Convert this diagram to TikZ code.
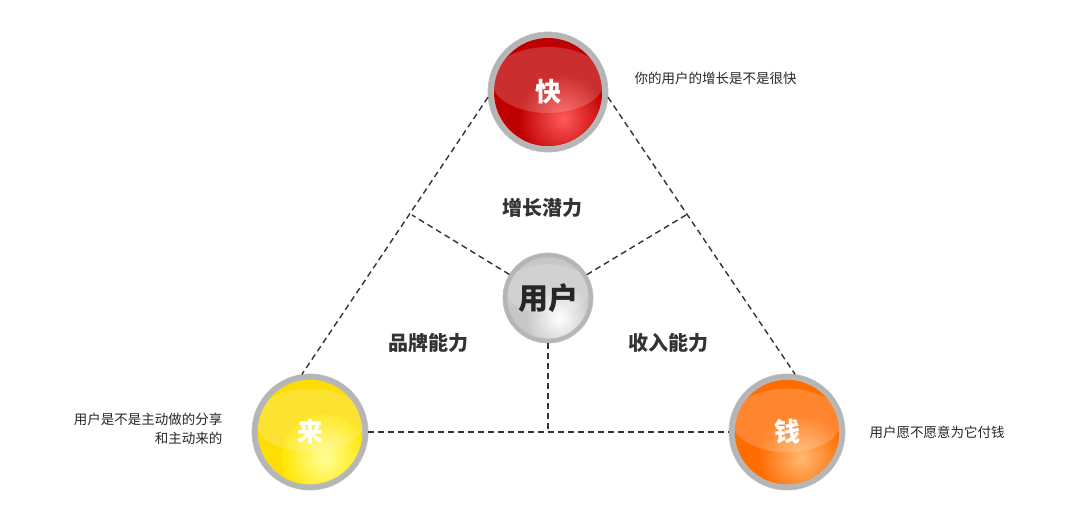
\documentclass[tikz,border=0pt]{standalone}
\usepackage{fontspec}
\setmainfont{Noto Sans CJK SC}
\usetikzlibrary{shadings}
\begin{document}
\begin{tikzpicture}[x=1pt,y=-1pt,
  dline/.style={draw=black!80,line width=1.4pt,dash pattern=on 6pt off 4pt},
  lbl/.style={font=\fontsize{20}{24}\selectfont\bfseries,text=black!80},
  note/.style={font=\fontsize{13.5}{19}\selectfont,text=black!85}]
\useasboundingbox (0,0) rectangle (1080,524);
\newcommand{\myball}[6]{% x,y,r,dark,light,name
  \shade[outer color=black!30,inner color=black!5] (#1,#2) circle (#3);
  \draw[black!25,line width=0.8pt] (#1,#2) circle (#3);
  \fill[#4] (#1,#2) circle (0.9*#3);
  \begin{scope}
    \clip (#1,#2) circle (0.9*#3);
    \shade[inner color=#5, outer color=#4] (#1+0.25*#3,#2+0.45*#3) circle (0.75*#3);
    \fill[white,opacity=0.18] (#1,#2-0.2*#3) ellipse (0.95*#3 and 0.55*#3);
  \end{scope}
  \node[circle,minimum size=2*#3,inner sep=0] (#6) at (#1,#2) {};
}
\myball{548}{92}{60}{red!75!black}{red!65!white}{kuai}
\myball{310}{432}{58}{yellow!80!orange}{yellow!40!white}{lai}
\myball{787}{432}{58}{orange!85!red}{orange!55!white}{qian}
\myball{548}{298}{45}{black!22}{white}{yh}
\node[font=\fontsize{26}{30}\selectfont\bfseries,text=white] at (kuai) {快};
\node[font=\fontsize{26}{30}\selectfont\bfseries,text=white] at (lai) {来};
\node[font=\fontsize{26}{30}\selectfont\bfseries,text=white] at (qian) {钱};
\node[font=\fontsize{30}{34}\selectfont\bfseries,text=black!85] at (yh) {用户};
\coordinate (eL) at (412,215);
\coordinate (eR) at (686,215);
\coordinate (eB) at (548,432);
\draw[dline] (kuai.185) -- (lai.98);
\draw[dline] (kuai.-5) -- (qian.82);
\draw[dline] (lai) -- (qian);
\draw[dline] (yh) -- (eL);
\draw[dline] (yh) -- (eR);
\draw[dline] (yh) -- (eB);
\node[lbl] (l1) at (542,208) {增长潜力};
\node[lbl] (l2) at (428,343) {品牌能力};
\node[lbl] (l3) at (668,343) {收入能力};
\node[note,anchor=west] (n1) at (631,78) {你的用户的增长是不是很快};
\node[note,anchor=west] (n2) at (866,432) {用户愿不愿意为它付钱};
\node[note,anchor=east,align=right] (n3) at (226,429) {用户是不是主动做的分享\\和主动来的};
\end{tikzpicture}
\end{document}
